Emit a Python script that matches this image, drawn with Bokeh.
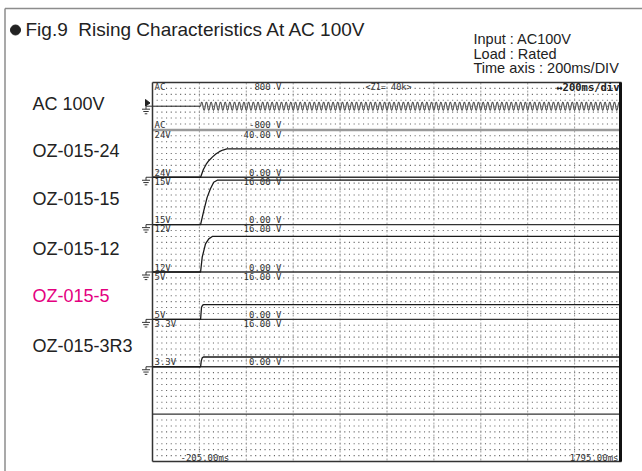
import numpy as np
from bokeh.plotting import figure
from bokeh.models import Range1d
from bokeh.core.properties import value
from bokeh.embed import file_html
from bokeh.resources import INLINE

# ---------------- data ----------------
title_text = "Fig.9\u00a0\u00a0Rising Characteristics At AC 100V"
condition_lines = ["Input : AC100V", "Load : Rated", "Time axis : 200ms/DIV"]

channel_names = ["AC 100V", "OZ-015-24", "OZ-015-15", "OZ-015-12", "OZ-015-5", "OZ-015-3R3"]
channel_colors = ["#222222", "#222222", "#222222", "#222222", "#e4007f", "#222222"]
channel_tags = ["AC", "24V", "15V", "12V", "5V", "3.3V"]
range_top_labels = ["800 V", "40.00 V", "16.00 V", "16.00 V", "16.00 V", "16.00 V"]
range_bottom_labels = ["-800 V", "0.00 V", "0.00 V", "0.00 V", "0.00 V", "0.00 V"]
range_top_values = [800, 40, 16, 16, 16, 16]
range_bottom_values = [-800, 0, 0, 0, 0, 0]

time_start_ms = -205
time_end_ms = 1795
zoom_label = "<Z1= 40k>"
timebase_label = "\u2194200ms/div"
start_label = "-205.00ms"
end_label = "1795.00ms"

ac_rms_v = 100
ac_freq_hz = 50
ac_on_ms = 0

t_24 = [-205, 0, 12, 24, 36, 50, 65, 80, 95, 112, 1795]
v_24 = [0, 0, 6.5, 11.0, 14.2, 17.0, 19.6, 21.6, 23.0, 24.0, 24.0]
t_15 = [-205, 0, 14, 28, 42, 56, 71, 1795]
v_15 = [0, 0, 4.8, 9.2, 12.1, 14.3, 15.0, 15.1]
t_12 = [-205, 0, 7, 21, 35, 50, 1795]
v_12 = [0, 0, 5.0, 9.5, 11.2, 12.0, 12.0]
t_5 = [-205, 0, 4, 9, 14, 1795]
v_5 = [0, 0, 4.1, 4.8, 5.0, 5.0]
t_3 = [-205, 0, 3, 7, 12, 1795]
v_3 = [0, 0, 2.0, 3.0, 3.3, 3.3]
dc_traces = [(t_24, v_24), (t_15, v_15), (t_12, v_12), (t_5, v_5), (t_3, v_3)]

# ---------------- layout (pixels) ----------------
W, H = 642, 471
SL, SR, ST, SB = 152, 621, 82, 461
N_PANELS = 8
PH = (SB - ST) / N_PANELS
N_DIV = 10

p = figure(width=W, height=H, x_range=Range1d(0, W), y_range=Range1d(H, 0),
           output_backend="svg", toolbar_location=None,
           x_axis_type=None, y_axis_type=None, min_border=0,
           outline_line_color=None)
p.background_fill_color = "white"
p.border_fill_color = "white"

mpp = (time_end_ms - time_start_ms) / (SR - SL)
p.extra_x_ranges = {"t": Range1d(time_start_ms - SL * mpp, time_end_ms + (W - SR) * mpp)}

zero_px = []
for i in range(len(channel_tags)):
    top_px = ST + i * PH
    bot_px = top_px + PH
    tv, bv = range_top_values[i], range_bottom_values[i]
    vpp = (tv - bv) / PH
    p.extra_y_ranges["ch%d" % i] = Range1d(bv + (bot_px - H) * vpp, bv + bot_px * vpp)
    zero_px.append(bot_px - (0 - bv) / vpp)

# outer page frame
p.segment(x0=[4.5, 4.5], y0=[8, 8], x1=[W, 4.5], y1=[8, H], line_color="#8c8c8c", line_width=1.5)

# dotted grid lattice
dx = (SR - SL) / (N_DIV * 10)
xs = SL + dx * np.arange(1, N_DIV * 10)
rows = [j for j in range(1, N_PANELS * 8) if j % 8 != 0]
ys = ST + (PH / 8) * np.array(rows)
gx, gy = np.meshgrid(xs, ys)
p.scatter(gx.ravel(), gy.ravel(), marker="square", size=1.1, fill_color="#666666", line_color=None)

# major vertical division lines
vx = SL + (SR - SL) / N_DIV * np.arange(1, N_DIV)
p.segment(x0=vx, y0=[ST] * len(vx), x1=vx, y1=[SB] * len(vx), line_color="#a0a0a0",
          line_width=1, line_dash="2 2")

# panel separators
p.segment(x0=time_start_ms, x1=time_end_ms, y0=-800, y1=-800, x_range_name="t",
          y_range_name="ch0", line_color="#9a9a9a", line_width=2.5)
for i in range(1, len(channel_tags)):
    p.segment(x0=time_start_ms, x1=time_end_ms, y0=0, y1=0, x_range_name="t",
              y_range_name="ch%d" % i, line_color="#333333", line_width=1.3)
p.segment(x0=SL, x1=SR, y0=ST + 7 * PH, y1=ST + 7 * PH, line_color="#333333", line_width=1.3)

# AC input trace
t_ac_on = np.arange(ac_on_ms, time_end_ms + 0.5, 0.5)
v_ac_on = ac_rms_v * np.sqrt(2) * np.sin(2 * np.pi * ac_freq_hz * (t_ac_on - ac_on_ms) / 1000.0)
t_ac = np.concatenate([[time_start_ms], t_ac_on])
v_ac = np.concatenate([[0], v_ac_on])
p.line(t_ac, v_ac, x_range_name="t", y_range_name="ch0", line_color="#1a1a1a", line_width=1.0)

# DC output traces
for i, (t, v) in enumerate(dc_traces):
    p.line(t, v, x_range_name="t", y_range_name="ch%d" % (i + 1), line_color="#1a1a1a", line_width=1.3)

# screen border
p.segment(x0=[SL, SL, SL], y0=[ST, SB, ST], x1=[SR, SR, SL], y1=[ST, SB, SB],
          line_color="#333333", line_width=1.5)
p.segment(x0=SR - 1, x1=SR - 1, y0=ST, y1=SB, line_color="#111111", line_width=3)

# ground symbols
gxs, gys = [], []
for y0 in zero_px:
    gxs += [[145.5, SL], [145.5, 145.5], [141.5, 149.5], [142.8, 148.2], [144.2, 146.8]]
    gys += [[y0, y0], [y0, y0 + 3], [y0 + 3, y0 + 3], [y0 + 5.3, y0 + 5.3], [y0 + 7.6, y0 + 7.6]]
p.multi_line(gxs, gys, line_color="#333333", line_width=1)
p.patch([145, 149.5, 145], [99, 102.5, 105.5], fill_color="#222222", line_color="#222222")

# scope texts
mono = value("DejaVu Sans Mono")
tag_x, tag_y, tag_t, val_y, val_t = [], [], [], [], []
for i in range(len(channel_tags)):
    top_px = ST + i * PH
    bot_px = top_px + PH
    tag_x += [154, 154]
    tag_y += [top_px + 4.8, bot_px - 4.5]
    tag_t += [channel_tags[i], channel_tags[i]]
    val_y += [top_px + 4.8, bot_px - 4.5]
    val_t += [range_top_labels[i], range_bottom_labels[i]]
p.text(x=tag_x, y=tag_y, text=tag_t, text_font=mono, text_font_size="9px",
       text_baseline="middle", text_align="left", text_color="#333333")
p.text(x=[281] * len(val_t), y=val_y, text=val_t, text_font=mono, text_font_size="9px",
       text_baseline="middle", text_align="right", text_color="#333333")
p.text(x=[365], y=[86.5], text=[zoom_label], text_font=mono, text_font_size="8.5px",
       text_baseline="middle", text_align="left", text_color="#333333")
p.text(x=[619], y=[86.5], text=[timebase_label], text_font=mono, text_font_size="10.5px",
       text_font_style="bold", text_baseline="middle", text_align="right", text_color="#222222")
p.text(x=[180], y=[457], text=[start_label], text_font=mono, text_font_size="9px",
       text_baseline="middle", text_align="left", text_color="#333333")
p.text(x=[618], y=[457], text=[end_label], text_font=mono, text_font_size="9px",
       text_baseline="middle", text_align="right", text_color="#333333")

# channel name labels
sans = value("Liberation Sans")
name_y = [103, 150, 198, 248, 295, 345]
p.text(x=[32] * len(channel_names), y=name_y, text=channel_names, text_font=sans,
       text_font_size="18px", text_baseline="middle", text_align="left", text_color=channel_colors)

# title and conditions
p.scatter(x=[15], y=[29.5], marker="circle", size=10, fill_color="#222222", line_color="#222222")
p.text(x=[25], y=[29], text=[title_text], text_font=sans, text_font_size="19px",
       text_baseline="middle", text_align="left", text_color="#222222")
p.text(x=[473] * 3, y=[38, 53, 67.5], text=condition_lines, text_font=sans, text_font_size="14.5px",
       text_baseline="middle", text_align="left", text_color="#222222")

open("out.html", "w").write(file_html(p, INLINE))
